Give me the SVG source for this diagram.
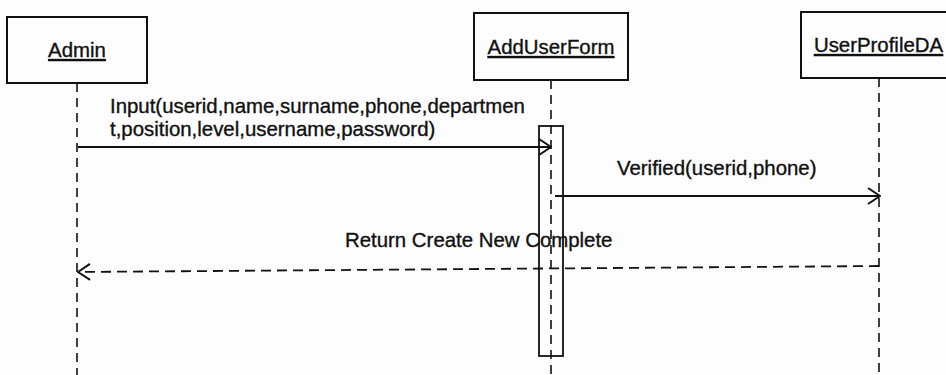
<svg xmlns="http://www.w3.org/2000/svg" width="946" height="375" viewBox="0 0 946 375">
  <style>
    .box { fill: none; stroke: #111; stroke-width: 2; }
    .title { font-family: "Liberation Sans", Arial, sans-serif; font-size: 20.4px; fill: #111; stroke: #111; stroke-width: 0.35; text-anchor: middle; text-decoration: underline; }
    .label { font-family: "Liberation Sans", Arial, sans-serif; font-size: 20.4px; fill: #111; stroke: #111; stroke-width: 0.35; }
    .lifeline { stroke: #111; stroke-width: 1.6; stroke-dasharray: 9 6; fill: none; }
    .activation { fill: none; stroke: #111; stroke-width: 1.8; }
    .call { stroke: #111; stroke-width: 1.8; fill: none; marker-end: url(#open-arrow); }
    .reply { stroke: #111; stroke-width: 1.8; fill: none; stroke-dasharray: 10 6; marker-end: url(#open-arrow); }
  </style>
  <defs>
    <marker id="open-arrow" viewBox="0 0 14 18" refX="13" refY="9" markerWidth="14" markerHeight="18" markerUnits="userSpaceOnUse" orient="auto">
      <path d="M1,1 L13,9 L1,17" fill="none" stroke="#111" stroke-width="2" stroke-dasharray="none"/>
    </marker>
  </defs>

  <rect width="946" height="375" fill="#fdfdfd"/>

  <!-- lifelines -->
  <g id="lifelines">
    <line class="lifeline" x1="77" y1="83" x2="77" y2="375"/>
    <line class="lifeline" x1="551" y1="80" x2="551" y2="375"/>
    <line class="lifeline" x1="879" y1="78" x2="879" y2="375"/>
  </g>

  <g id="admin">
    <rect class="box" x="7" y="17" width="140" height="66"/>
    <text class="title" x="77" y="57">Admin</text>
  </g>

  <g id="addUserForm">
    <rect class="box" x="474" y="13" width="154" height="67"/>
    <text class="title" x="551" y="54">AddUserForm</text>
    <rect class="activation" x="539" y="126" width="24" height="230"/>
  </g>

  <g id="userProfileDA">
    <rect class="box" x="801" y="12" width="160" height="66"/>
    <text class="title" x="878.5" y="52">UserProfileDA</text>
  </g>

  <!-- messages -->
  <g id="connectors">
    <line class="call" x1="78" y1="147" x2="551" y2="147"/>
    <line class="call" x1="555" y1="196" x2="880" y2="196"/>
    <line class="reply" x1="879" y1="266" x2="78" y2="272"/>
  </g>

  <g id="labels">
    <text class="label" x="110" y="113">Input(userid,name,surname,phone,departmen</text>
    <text class="label" x="110" y="136">t,position,level,username,password)</text>
    <text class="label" x="617" y="175">Verified(userid,phone)</text>
    <text class="label" x="345" y="247">Return Create New Complete</text>
  </g>
</svg>
